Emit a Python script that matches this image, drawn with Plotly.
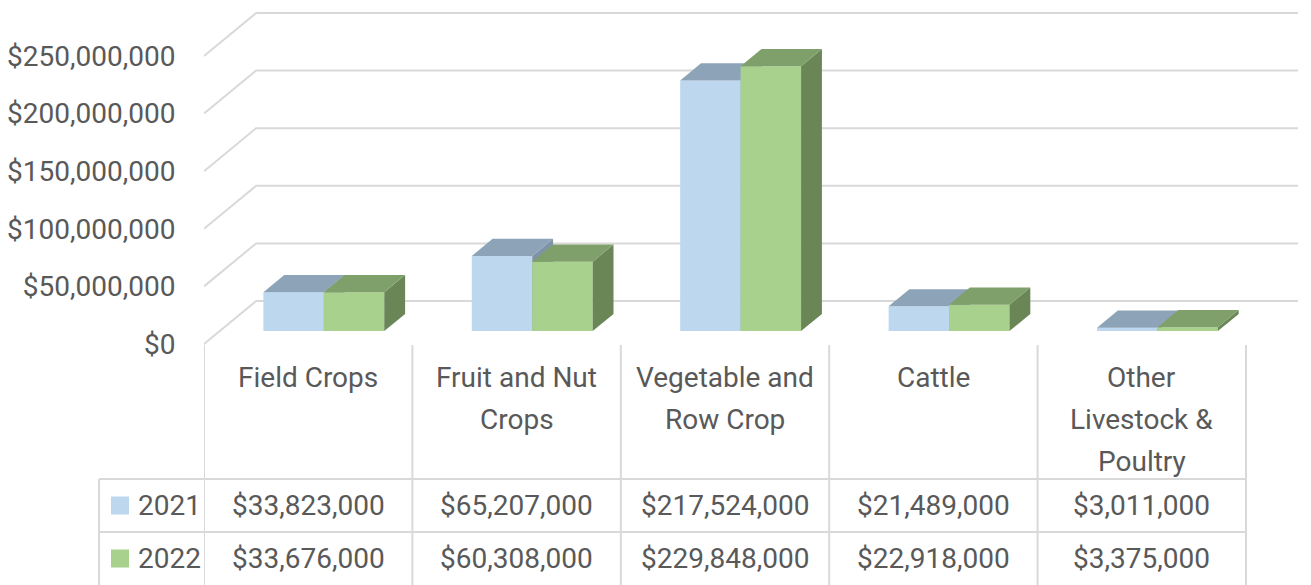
import plotly.graph_objects as go

# ---------------- data ----------------
categories = ["Field Crops", "Fruit and Nut Crops", "Vegetable and Row Crop",
              "Cattle", "Other Livestock & Poultry"]
category_lines = [["Field Crops"], ["Fruit and Nut", "Crops"], ["Vegetable and", "Row Crop"],
                  ["Cattle"], ["Other", "Livestock &", "Poultry"]]
series_names = ["2021", "2022"]
values_2021 = [33823000, 65207000, 217524000, 21489000, 3011000]
values_2022 = [33676000, 60308000, 229848000, 22918000, 3375000]
tick_values = [0, 50000000, 100000000, 150000000, 200000000, 250000000]
tick_labels = ["$0", "$50,000,000", "$100,000,000", "$150,000,000", "$200,000,000", "$250,000,000"]

# ---------------- styling / geometry ----------------
PAGE_W, PAGE_H = 1311, 585
BODY = 8                      # default page margin around the plot div
W, H = PAGE_W - BODY, PAGE_H - BODY
FONT = "Roboto"
TXT = "#595959"
GRID = "#D9D9D9"
FS = 28

front_col = ["#BDD7EE", "#A9D18E"]
top_col = ["#8DA3B8", "#7FA06A"]
side_col = ["#7E93A6", "#6A8656"]

PLOT_L = 204.0          # page pixel of front-left corner
UNIT = 208.4            # pixels per category
X_MIN = -0.5
DEPTH_X = 0.25          # full depth offset, in category units
X_MAX = len(categories) - 0.5 + DEPTH_X
Y0_PX = 344.0           # page pixel of front $0
PX_PER_VAL = 57.6 / 50e6
DEPTH_Y = 43.0 / PX_PER_VAL   # full depth offset, value units
Y_RANGE = [-(PAGE_H - Y0_PX) / PX_PER_VAL, (Y0_PX - BODY) / PX_PER_VAL]

F0, F1 = 0.30, 0.70     # bar depth (front/back fraction)
BAR_W = 0.29


def px(x):
    return (x - BODY) / W


def py(y):
    return 1 - (y - BODY) / H


fig = go.Figure()

# ---- back-wall gridlines with oblique side-wall segments ----
gx, gy = [], []
for v in tick_values:
    gx += [X_MIN, X_MIN + DEPTH_X, X_MAX, None]
    gy += [v, v + DEPTH_Y, v + DEPTH_Y, None]
fig.add_trace(go.Scatter(x=gx, y=gy, mode="lines", line=dict(color=GRID, width=2),
                         hoverinfo="skip", showlegend=False))

# ---- 3D bars drawn as faces (painter's order) ----
series = [values_2021, values_2022]
ddx = (F1 - F0) * DEPTH_X
ddy = (F1 - F0) * DEPTH_Y
base = F0 * DEPTH_Y
for i in range(len(categories)):
    for s, vals in enumerate(series):
        c = i + F0 * DEPTH_X
        xl = c - BAR_W if s == 0 else c
        xr = c if s == 0 else c + BAR_W
        top = base + vals[i]
        # front
        fig.add_trace(go.Scatter(x=[xl, xr, xr, xl, xl], y=[base, base, top, top, base],
                                 fill="toself", fillcolor=front_col[s], mode="lines",
                                 line=dict(width=0, color=front_col[s]),
                                 hoverinfo="skip", showlegend=False))
        # side
        fig.add_trace(go.Scatter(x=[xr, xr + ddx, xr + ddx, xr, xr],
                                 y=[base, base + ddy, top + ddy, top, base],
                                 fill="toself", fillcolor=side_col[s], mode="lines",
                                 line=dict(width=0, color=side_col[s]),
                                 hoverinfo="skip", showlegend=False))
        # top
        fig.add_trace(go.Scatter(x=[xl, xr, xr + ddx, xl + ddx, xl],
                                 y=[top, top, top + ddy, top + ddy, top],
                                 fill="toself", fillcolor=top_col[s], mode="lines",
                                 line=dict(width=0, color=top_col[s]),
                                 hoverinfo="skip", showlegend=False))

# ---- data table ----
shapes = []
TABLE_L = 99
TABLE_R = PLOT_L + (len(categories) - 0.5 - X_MIN) * UNIT
ROW_TOPS = [479, 532]
for yl in ROW_TOPS:
    shapes.append(dict(type="line", xref="paper", yref="paper", x0=px(TABLE_L), x1=px(TABLE_R),
                       y0=py(yl), y1=py(yl), line=dict(color=GRID, width=2)))
shapes.append(dict(type="line", xref="paper", yref="paper", x0=px(TABLE_L), x1=px(TABLE_L),
                   y0=py(479), y1=py(PAGE_H), line=dict(color=GRID, width=2)))
for k in range(len(categories) + 1):
    shapes.append(dict(type="line", xref="x", yref="paper", x0=k - 0.5, x1=k - 0.5,
                       y0=py(345), y1=py(PAGE_H), line=dict(color=GRID, width=2)))

annotations = []
LINE_Y = [377, 419, 461]
for i, lines in enumerate(category_lines):
    for j, t in enumerate(lines):
        annotations.append(dict(x=i, xref="x", y=py(LINE_Y[j]), yref="paper", text=t,
                                showarrow=False, xanchor="center", yanchor="middle",
                                font=dict(family=FONT, size=FS, color=TXT)))
ROW_Y = [505.5, 558.5]
for s, vals in enumerate(series):
    shapes.append(dict(type="rect", xref="paper", yref="paper", x0=px(111), x1=px(129),
                       y0=py(ROW_Y[s] - 9), y1=py(ROW_Y[s] + 9),
                       fillcolor=front_col[s], line=dict(width=0)))
    annotations.append(dict(x=px(136), xref="paper", y=py(ROW_Y[s]), yref="paper",
                            text=series_names[s], showarrow=False, xanchor="left",
                            yanchor="middle", font=dict(family=FONT, size=FS, color=TXT)))
    for i, v in enumerate(vals):
        annotations.append(dict(x=i, xref="x", y=py(ROW_Y[s]), yref="paper",
                                text=f"${v:,}", showarrow=False, xanchor="center",
                                yanchor="middle", font=dict(family=FONT, size=FS, color=TXT)))

fig.update_layout(
    width=W, height=H, margin=dict(l=0, r=0, t=0, b=0, pad=0, autoexpand=False),
    paper_bgcolor="white", plot_bgcolor="white",
    showlegend=False, shapes=shapes, annotations=annotations,
    xaxis=dict(range=[X_MIN, X_MAX], domain=[px(PLOT_L), px(PLOT_L + (X_MAX - X_MIN) * UNIT)],
               automargin=False,
               showgrid=False, zeroline=False, showline=False, showticklabels=False, ticks=""),
    yaxis=dict(range=Y_RANGE, domain=[0, 1], showgrid=False, zeroline=False, showline=False,
               automargin=False,
               tickmode="array", tickvals=tick_values, ticktext=tick_labels,
               ticks="outside", ticklen=22, tickcolor="rgba(0,0,0,0)",
               tickfont=dict(family=FONT, size=FS, color=TXT)),
)

fig.write_html("out.html")
